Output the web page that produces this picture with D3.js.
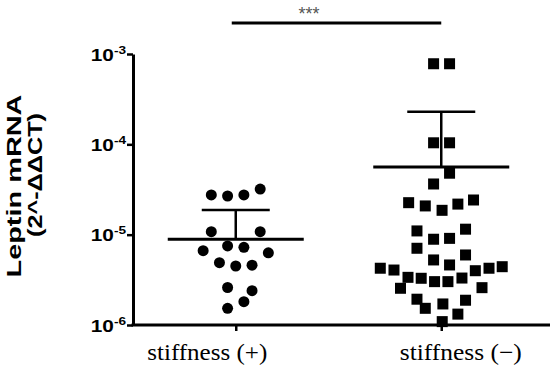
<!DOCTYPE html>
<html>
<head>
<meta charset="utf-8">
<script src="https://cdn.jsdelivr.net/npm/d3@7"></script>
<style>
  body { margin: 0; background: #fff; }
  svg { display: block; }
</style>
</head>
<body>
<svg id="chart" width="550" height="378"></svg>
<script>
// groups on the x axis
var groups = ["stiffness (+)", "stiffness (\u2212)"];

var plusValues = [2.75e-5, 2.68e-5, 2.75e-5, 3.2e-5, 1.08e-5, 1.08e-5, 6.65e-6, 7.5e-6, 7.25e-6,
    6.3e-6, 4.9e-6, 4.5e-6, 4.6e-6, 2.6e-6, 2.4e-6, 1.81e-6, 1.53e-6];
var plusSlots = [-1.5, -0.5, 0.5, 1.5, -1.5, 1.5, -2, -0.5, 0.5,
    2, -1, 0, 1, -0.5, 1, 0.5, -0.5];

// stiffness (-)
var minusValues = [7.8e-4, 7.8e-4, 1.04e-4, 1.04e-4, 4.79e-5, 3.64e-5, 2.26e-5, 2.08e-5, 1.86e-5,
    2.18e-5, 2.42e-5, 1.10e-5, 8.9e-6, 9.1e-6, 1.15e-5, 7.07e-6, 5.25e-6, 4.62e-6, 5.96e-6,
    4.25e-6, 4.06e-6, 3.37e-6, 3.29e-6, 3.02e-6, 3.02e-6, 3.31e-6, 3.99e-6, 4.25e-6, 4.42e-6,
    2.55e-6, 2.59e-6, 1.93e-6, 1.53e-6, 1.71e-6, 1.88e-6, 1.32e-6, 1.09e-6];
var minusSlots = [-0.47, 0.51, -0.47, 0.51, 0.51, -0.47, -2.0, -0.98, 0.05,
    1.02, 1.98, -1.49, -0.47, 0.51, 1.49, -1.49, -0.47, 0.51, 1.49,
    -3.74, -2.9, -2.04, -1.23, -0.41, 0.41, 1.27, 2.09, 2.93, 3.74,
    -2.5, 2.5, -1.49, -0.98, 0.1, 1.49, 1.02, 0.06];

// mean and mean + SD for each group
var means = [8.9e-6, 5.6e-5];
var sdTops = [1.87e-5, 2.3e-4];

var yTicks = [1e-6, 1e-5, 1e-4, 1e-3];
var yExponents = ["-6", "-5", "-4", "-3"];

var svg = d3.select("#chart"),
    margin = { top: 54, right: 0, bottom: 53, left: 133 },
    W = +svg.attr("width"),
    H = +svg.attr("height");

var x = d3.scalePoint().domain(groups).range([margin.left, 544]).padding(0.5);
var y = d3.scaleLog().domain([1e-6, 1e-3]).range([H - margin.bottom, margin.top]);
var slot = d3.scaleLinear().domain([0, 1]).range([0, 16.3]);

var series = [
    { g: groups[0], values: plusValues, slots: plusSlots, shape: "circle" },
    { g: groups[1], values: minusValues, slots: minusSlots, shape: "square" }
];

// points
series.forEach(function (s) {
    var pts = s.values.map(function (v, i) { return { v: v, k: s.slots[i] }; });
    if (s.shape == "circle") {
        svg.append("g").selectAll("circle")
            .data(pts)
            .enter().append("circle")
            .attr("cx", function (d) { return x(s.g) + slot(d.k); })
            .attr("cy", function (d) { return y(d.v); })
            .attr("r", 5.5)
            .attr("fill", "#000");
    } else {
        svg.append("g").selectAll("rect")
            .data(pts)
            .enter().append("rect")
            .attr("x", function (d) { return x(s.g) + slot(d.k) - 5.5; })
            .attr("y", function (d) { return y(d.v) - 5.5; })
            .attr("width", 11)
            .attr("height", 11)
            .attr("fill", "#000");
    }
});

// mean lines and SD bars
var stats = svg.append("g").attr("stroke", "#000");
groups.forEach(function (g, i) {
    var cx = x(g);
    stats.append("line")
        .attr("x1", cx - 68).attr("x2", cx + 68)
        .attr("y1", y(means[i])).attr("y2", y(means[i]))
        .attr("stroke-width", 3);
    stats.append("line")
        .attr("x1", cx).attr("x2", cx)
        .attr("y1", y(means[i])).attr("y2", y(sdTops[i]))
        .attr("stroke-width", 2.5);
    stats.append("line")
        .attr("x1", cx - 34).attr("x2", cx + 34)
        .attr("y1", y(sdTops[i])).attr("y2", y(sdTops[i]))
        .attr("stroke-width", 2.5);
});

// y axis
var yAxis = svg.append("g")
    .attr("transform", "translate(" + margin.left + ",0)")
    .call(d3.axisLeft(y).tickValues(yTicks).tickSize(6).tickSizeOuter(0).tickFormat(""));
yAxis.select(".domain").attr("stroke-width", 3);
yAxis.selectAll(".tick line").attr("stroke-width", 2.5);

// tick labels are a little wider than tall in the original
var yLab = yAxis.selectAll(".tick")
    .append("text")
    .attr("fill", "#000")
    .attr("transform", "translate(-7,6) scale(1.3,1)")
    .attr("text-anchor", "end")
    .style("font-family", "Liberation Sans, Arial, sans-serif")
    .style("font-weight", "bold")
    .style("font-size", "16px");
yLab.append("tspan").text("10");
yLab.append("tspan")
    .attr("dy", -7)
    .style("font-size", "10.5px")
    .text(function (d, i) { return yExponents[i]; });

// x axis
var xAxis = svg.append("g")
    .attr("transform", "translate(0," + (H - margin.bottom) + ")")
    .call(d3.axisBottom(x).tickSize(6).tickSizeOuter(0).tickFormat(""));
xAxis.select(".domain").attr("d", "M" + (margin.left - 1.5) + ",0H" + W).attr("stroke-width", 3);
xAxis.selectAll(".tick line").attr("stroke-width", 2.5);

var labelShift = [-89, -42];
var labelWidth = [120, 122];
xAxis.selectAll(".tick")
    .append("text")
    .attr("fill", "#000")
    .attr("x", function (d, i) { return labelShift[i]; })
    .attr("y", 35)
    .attr("text-anchor", "start")
    .attr("textLength", function (d, i) { return labelWidth[i]; })
    .attr("lengthAdjust", "spacingAndGlyphs")
    .style("font-family", "Liberation Serif, Times New Roman, serif")
    .style("font-size", "23px")
    .text(function (d) { return d; });

// y axis title
var title = svg.append("text")
    .attr("transform", "rotate(-90)")
    .attr("text-anchor", "middle")
    .style("font-family", "Liberation Sans, Arial, sans-serif")
    .style("font-weight", "bold")
    .style("font-size", "20px");
title.append("tspan")
    .attr("x", -186).attr("y", 21)
    .attr("textLength", 183).attr("lengthAdjust", "spacingAndGlyphs")
    .text("Leptin mRNA");
title.append("tspan")
    .attr("x", -175).attr("y", 42)
    .attr("textLength", 124).attr("lengthAdjust", "spacingAndGlyphs")
    .text("(2^-\u0394\u0394CT)");

// significance bar
svg.append("line")
    .attr("x1", x(groups[0]) - 4).attr("x2", x(groups[1]))
    .attr("y1", 23).attr("y2", 23)
    .attr("stroke", "#000")
    .attr("stroke-width", 3);
svg.append("text")
    .attr("x", 309)
    .attr("y", 20)
    .attr("text-anchor", "middle")
    .attr("fill", "#555")
    .style("font-family", "Liberation Sans, Arial, sans-serif")
    .style("font-size", "18px")
    .text("***");
</script>
</body>
</html>
